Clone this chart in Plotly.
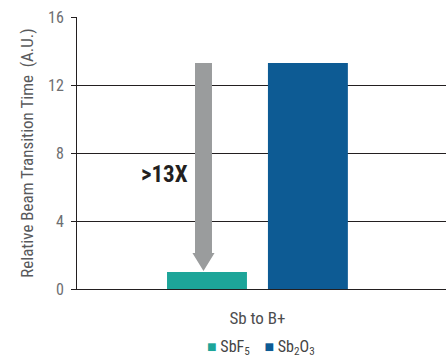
import plotly.graph_objects as go

categories = ["Sb to B+"]
series_names = ["SbF<sub>5</sub>", "Sb<sub>2</sub>O<sub>3</sub>"]
series_values = [[1.0], [13.3]]
series_colors = ["#1da599", "#0d5b94"]
y_ticks = [0, 4, 8, 12, 16]
ratio_label = ">13X"

FONT = "Liberation Sans Narrow, Roboto Condensed, Open Sans, sans-serif"

fig = go.Figure()
for name, vals, col in zip(series_names, series_values, series_colors):
    fig.add_trace(go.Bar(x=categories, y=vals, name=name, marker_color=col,
                         marker_line_width=0, showlegend=False))

# arrow from top of the tall bar down to the short bar (built from data)
low, high = series_values[0][0], series_values[1][0]
xc = -0.1462
hw, hh = 0.023, 0.030
tip = low + 0.06
head = low + 1.12
path = (f"M {xc-hw},{high} L {xc+hw},{high} L {xc+hw},{head} L {xc+hh},{head} "
        f"L {xc},{tip} L {xc-hh},{head} L {xc-hw},{head} Z")
fig.add_shape(type="path", path=path, xref="x", yref="y",
              fillcolor="#9a9c9d", line_width=0, layer="above")

fig.add_annotation(x=xc - hw, y=6.75, xref="x", yref="y", text=f"<b>{ratio_label}</b>",
                   showarrow=False, xanchor="right", yanchor="middle", xshift=-5,
                   font=dict(family=FONT, size=23, color="#231f20"))

# compact legend built from the series names and colours
legend_text = "&nbsp;&nbsp;&nbsp;&nbsp;".join(
    f"<span style='color:{c}'>■</span>&nbsp;{n}" for n, c in zip(series_names, series_colors))
fig.add_annotation(x=0.4986, y=-0.215, xref="paper", yref="paper", text=legend_text,
                   showarrow=False, xanchor="center", yanchor="middle",
                   font=dict(family=FONT, size=16, color="#444444"))

fig.update_layout(
    width=446, height=357,
    margin=dict(l=77, r=0, t=17, b=68, autoexpand=False),
    paper_bgcolor="white", plot_bgcolor="white",
    barmode="group", bargap=0.453, bargroupgap=0.208,
    font=dict(family=FONT, color="#555555"),
    showlegend=False,
    xaxis=dict(range=[-0.489, 0.511], showgrid=False, showline=True, linecolor="#231f20",
               linewidth=1, ticks="", tickfont=dict(size=17, color="#4d4d4f"),
               ticklabelstandoff=14, fixedrange=True),
    yaxis=dict(range=[0, 16], tickvals=y_ticks, showgrid=True, gridcolor="#231f20",
               gridwidth=1, showline=True, linecolor="#231f20", linewidth=1,
               ticks="outside", ticklen=5, tickcolor="#231f20", zeroline=False,
               ticklabelstandoff=4,
               tickfont=dict(size=16, color="#6d6e71"),
               title=dict(text="Relative Beam Transition Time  (A.U.)",
                          font=dict(size=17, color="#58595b"), standoff=10)),
)

fig.write_html("out.html")
